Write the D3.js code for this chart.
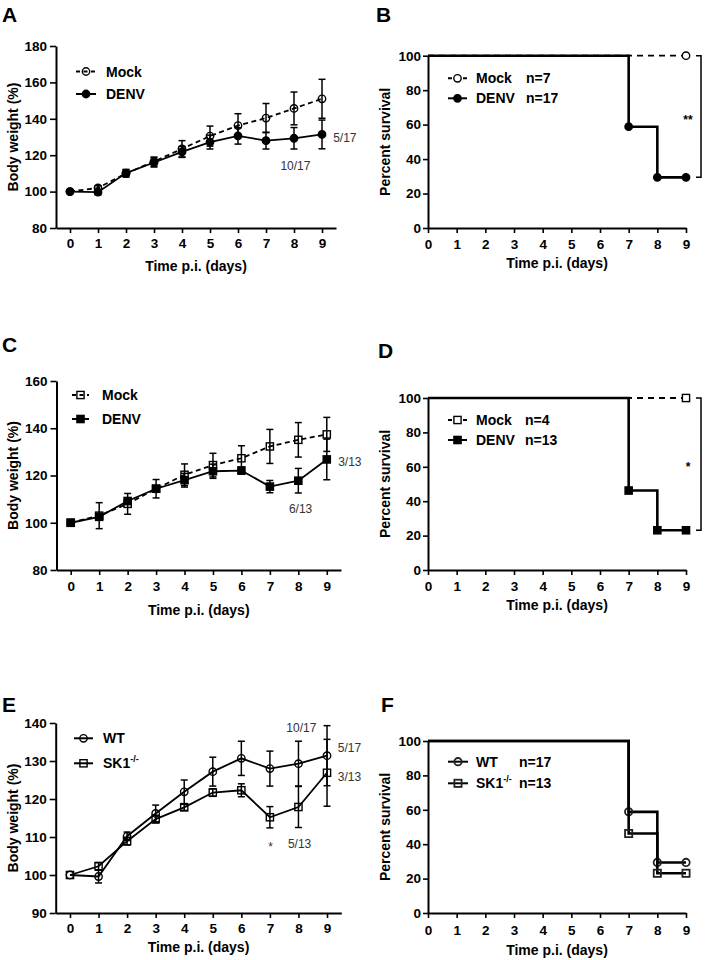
<!DOCTYPE html>
<html>
<head>
<meta charset="utf-8">
<script src="https://cdn.jsdelivr.net/npm/d3@7"></script>
<style>
  body { margin: 0; background: #fff; }
  svg { display: block; }
</style>
</head>
<body>
<div id="plotRegi"></div>
<script>
/* Data */
const days = [0, 1, 2, 3, 4, 5, 6, 7, 8, 9]

// A: body weight, Mock vs DENV
const mockA    = [100, 102.0, 110.0, 116.5, 123.5, 130.5, 136.3, 140.4, 145.7, 151.0]
const mockErrA = [0, 1.2, 2.0, 2.5, 4.5, 5.5, 6.5, 8.0, 9.0, 10.7]
const denvA    = [100, 99.7, 110.2, 116.0, 121.8, 127.2, 130.6, 128.0, 129.3, 131.4]
const denvErrA = [0, 1.5, 2.0, 2.5, 3.0, 3.8, 4.5, 4.6, 5.9, 7.9]

// C: body weight, Mock vs DENV (SK1-/-)
const mockC    = [100, 103.0, 108.0, 114.4, 120.3, 124.4, 127.3, 132.3, 135.1, 137.4]
const mockErrC = [0, 5.5, 4.4, 3.9, 4.6, 5.0, 5.3, 7.2, 7.3, 7.2]
const denvC    = [100, 102.5, 109.2, 114.4, 118.0, 121.8, 122.1, 115.3, 117.8, 126.8]
const denvErrC = [0, 1.2, 1.4, 1.0, 2.9, 3.0, 1.5, 2.6, 5.2, 8.6]

// E: body weight, WT vs SK1-/-
const wtE    = [100, 99.6, 110.2, 116.2, 121.9, 127.2, 130.7, 128.0, 129.3, 131.4]
const wtErrE = [0, 1.7, 1.1, 2.2, 3.1, 3.8, 4.5, 4.6, 5.9, 7.9]
const skE    = [100, 102.3, 108.9, 114.7, 117.8, 121.7, 122.3, 115.2, 117.9, 126.9]
const skErrE = [0, 1.0, 1.0, 1.0, 0.8, 1.0, 1.7, 2.8, 5.4, 8.8]

// B, D, F: survival
const survDays = [0, 7, 8, 9]
const mockB = [100, 100, 100, 100]
const denvB = [100, 58.8, 29.4, 29.4]
const mockD = [100, 100, 100, 100]
const denvD = [100, 46.2, 23.1, 23.1]
const wtF   = [100, 58.8, 29.4, 29.4]
const skF   = [100, 46.2, 23.1, 23.1]
const markDaysInfected = [7, 8, 9]
const markDaysMock = [9]

// Ticks and labels
const yTicksA = [80, 100, 120, 140, 160, 180]
const yTicksC = [80, 100, 120, 140, 160]
const yTicksE = [90, 100, 110, 120, 130, 140]
const survTicks = [0, 20, 40, 60, 80, 100]
const xTitle = "Time p.i. (days)"
const weightTitle = "Body weight (%)"
const survTitle = "Percent survival"

// Annotations (day / value in data units)
const annoA = [
    { text: "10/17", day: 8.05, value: 112.0, anchor: "middle" },
    { text: "5/17", day: 9.4, value: 127.5, anchor: "start" }
]
const annoC = [
    { text: "6/13", day: 8.08, value: 104.2, anchor: "middle" },
    { text: "3/13", day: 9.4, value: 124.1, anchor: "start" }
]
const annoE = [
    { text: "10/17", day: 8.1, value: 137.7, anchor: "middle" },
    { text: "5/17", day: 9.38, value: 132.4, anchor: "start" },
    { text: "3/13", day: 9.38, value: 124.7, anchor: "start" },
    { text: "*", day: 7.02, value: 106.4, anchor: "middle" },
    { text: "5/13", day: 7.63, value: 107.2, anchor: "start" }
]
const sigB = { text: "**", from: 100, to: 29.4 }
const sigD = { text: "*", from: 100, to: 23.1 }


/* Drawing */
const FONT = "'Liberation Sans', Arial, Helvetica, sans-serif"

var svg = d3
    .select("#plotRegi")
    .append("svg")
    .attr("width", 706)
    .attr("height", 960)
    .style("font-family", FONT)

// Style an axis group like the GraphPad look
function styleAxis(g) {
    g.attr("font-family", FONT).attr("font-size", 13.5)
    g.select(".domain").attr("stroke", "#000").attr("stroke-width", 2)
    g.selectAll(".tick line").attr("stroke", "#000").attr("stroke-width", 1.6)
    g.selectAll(".tick text").attr("fill", "#000").style("font-weight", "bold")
}

function addMarker(g, shape, cx, cy, fill, stroke, sw) {
    let m
    if (shape === "circle") {
        m = g.append("circle").attr("cx", cx).attr("cy", cy).attr("r", 3.7)
    } else {
        m = g.append("rect").attr("x", cx - 3.6).attr("y", cy - 3.6).attr("width", 7.2).attr("height", 7.2)
    }
    m.attr("fill", fill).attr("stroke", stroke).attr("stroke-width", sw)
}

function drawAxes(g, x, y, p, xTicks, yTicks) {
    const x0 = x.range()[0], y0 = y.range()[0]

    g.append("g")
        .attr("transform", "translate(0," + y0 + ")")
        .call(d3.axisBottom(x).tickValues(xTicks).tickSize(5).tickSizeOuter(0).tickPadding(p.xPad))
        .call(styleAxis)

    g.append("g")
        .attr("transform", "translate(" + x0 + ",0)")
        .call(d3.axisLeft(y).tickValues(yTicks).tickSize(p.yTick).tickSizeOuter(0).tickPadding(p.yPad))
        .call(styleAxis)

    // Axis titles
    g.append("text")
        .attr("x", (x.range()[0] + x.range()[1]) / 2)
        .attr("y", y0 + p.xTitleOff)
        .attr("text-anchor", "middle")
        .style("font-size", "14px")
        .style("font-weight", "bold")
        .text(xTitle)

    g.append("text")
        .attr("transform", "translate(" + p.yTitleX + "," + (y.range()[0] + y.range()[1]) / 2 + ") rotate(-90)")
        .attr("text-anchor", "middle")
        .style("font-size", "14px")
        .style("font-weight", "bold")
        .text(p.yTitle)

    // Panel letter
    g.append("text")
        .attr("x", p.letter[1])
        .attr("y", p.letter[2])
        .style("font-size", "21px")
        .style("font-weight", "bold")
        .text(p.letter[0])
}

function drawLegend(g, p) {
    const L = p.legend
    p.series.forEach((s, i) => {
        const cy = L.rows[i]
        g.append("line")
            .attr("x1", L.x1).attr("x2", L.x2)
            .attr("y1", cy).attr("y2", cy)
            .attr("stroke", "#000")
            .attr("stroke-width", 2)
            .attr("stroke-dasharray", s.dashed ? "4,3.5" : null)
        addMarker(g, s.shape, (L.x1 + L.x2) / 2, cy, s.fill, s.stroke || "#000", s.sw || 1.4)

        const t = g.append("text")
            .attr("x", L.tx)
            .attr("y", cy + 5)
            .style("font-size", "14px")
            .style("font-weight", "bold")
            .text(s.label)
        if (s.sup) {
            t.append("tspan").attr("dy", -6).style("font-size", "9px").text(s.sup)
        }
        if (s.n) {
            g.append("text")
                .attr("x", L.nx)
                .attr("y", cy + 5)
                .style("font-size", "14px")
                .style("font-weight", "bold")
                .text(s.n)
        }
    })
}

// Body weight panels
function weightPanel(p) {
    const x = d3.scaleLinear().domain([-0.5, 9.5]).range(p.xRange)
    const y = d3.scaleLinear().domain(p.yDomain).range(p.yRange)
    const g = svg.append("g")

    drawAxes(g, x, y, p, days, p.yTicks)

    p.series.forEach(s => {
        const pts = days.map((d, i) => ({ day: d, v: s.values[i], e: s.err[i] }))

        // Error bars with caps
        const eb = g.append("g")
            .selectAll("g")
            .data(pts.filter(d => d.e > 0))
            .enter()
            .append("g")
            .attr("stroke", "#000")
            .attr("stroke-width", 1.5)

        eb.append("line")
            .attr("x1", d => x(d.day)).attr("x2", d => x(d.day))
            .attr("y1", d => y(d.v - d.e)).attr("y2", d => y(d.v + d.e))
        eb.append("line")
            .attr("x1", d => x(d.day) - 3.5).attr("x2", d => x(d.day) + 3.5)
            .attr("y1", d => y(d.v + d.e)).attr("y2", d => y(d.v + d.e))
        eb.append("line")
            .attr("x1", d => x(d.day) - 3.5).attr("x2", d => x(d.day) + 3.5)
            .attr("y1", d => y(d.v - d.e)).attr("y2", d => y(d.v - d.e))

        // Line
        g.append("path")
            .datum(pts)
            .attr("d", d3.line().x(d => x(d.day)).y(d => y(d.v)))
            .attr("fill", "none")
            .attr("stroke", "#000")
            .attr("stroke-width", 1.8)
            .attr("stroke-dasharray", s.dashed ? "5,3.5" : null)

        // Markers
        pts.forEach(d => addMarker(g, s.shape, x(d.day), y(d.v), s.fill, "#000", 1.4))
    })

    drawLegend(g, p)

    // Group size annotations
    g.selectAll(".anno")
        .data(p.anno)
        .enter()
        .append("text")
        .attr("x", d => x(d.day))
        .attr("y", d => y(d.value))
        .attr("text-anchor", d => d.anchor)
        .attr("fill", "#333")
        .style("font-size", "12px")
        .text(d => d.text)
}

// Survival panels
function survivalPanel(p) {
    const x = d3.scaleLinear().domain([0, 9]).range([428, 686])
    const y = d3.scaleLinear().domain([0, 100]).range(p.yRange)
    const g = svg.append("g")

    drawAxes(g, x, y, p, days, survTicks)

    p.series.forEach(s => {
        const pts = survDays.map((d, i) => ({ day: d, v: s.values[i] }))

        g.append("path")
            .datum(pts)
            .attr("d", d3.line().curve(d3.curveStepAfter).x(d => x(d.day)).y(d => y(d.v)))
            .attr("fill", "none")
            .attr("stroke", "#000")
            .attr("stroke-width", s.dashed ? 1.8 : 2.6)
            .attr("stroke-dasharray", s.dashed ? "6,5" : null)

        pts.filter(d => s.marks.includes(d.day))
            .forEach(d => addMarker(g, s.shape, x(d.day), y(d.v), s.fill, s.stroke || "#000", s.sw || 1.4))
    })

    drawLegend(g, p)

    // Significance bracket
    if (p.sig) {
        const bx = x(9) + 15
        g.append("path")
            .attr("d", "M" + (bx - 5) + "," + y(p.sig.from) + "H" + bx + "V" + y(p.sig.to) + "H" + (bx - 5))
            .attr("fill", "none")
            .attr("stroke", "#000")
            .attr("stroke-width", 1.5)
        g.append("text")
            .attr("x", x(9) + 2)
            .attr("y", y((p.sig.from + p.sig.to) / 2) + 7)
            .attr("text-anchor", "middle")
            .style("font-size", "12px")
            .style("font-weight", "bold")
            .text(p.sig.text)
    }
}


/* Running */
weightPanel({
    letter: ["A", 2, 22],
    xRange: [56, 336], yDomain: [80, 180], yRange: [228, 46], yTicks: yTicksA,
    xPad: 5, yTick: 6, yPad: 3, xTitleOff: 43, yTitleX: 18, yTitle: weightTitle,
    series: [
        { label: "Mock", values: mockA, err: mockErrA, shape: "circle", fill: "none", dashed: true },
        { label: "DENV", values: denvA, err: denvErrA, shape: "circle", fill: "#000", dashed: false }
    ],
    legend: { rows: [71.5, 94], x1: 76, x2: 96, tx: 106 },
    anno: annoA
})

survivalPanel({
    letter: ["B", 376, 22],
    yRange: [228, 55.7],
    xPad: 6, yTick: 5, yPad: 2, xTitleOff: 40, yTitleX: 390, yTitle: survTitle,
    series: [
        { label: "Mock", n: "n=7", values: mockB, marks: markDaysMock, shape: "circle", fill: "#fff", dashed: true },
        { label: "DENV", n: "n=17", values: denvB, marks: markDaysInfected, shape: "circle", fill: "#000", dashed: false }
    ],
    legend: { rows: [78.3, 98.3], x1: 448, x2: 467, tx: 476, nx: 526 },
    sig: sigB
})

weightPanel({
    letter: ["C", 2, 352],
    xRange: [56.5, 341], yDomain: [80, 160], yRange: [570, 381], yTicks: yTicksC,
    xPad: 6.5, yTick: 6, yPad: 3, xTitleOff: 45, yTitleX: 18, yTitle: weightTitle,
    series: [
        { label: "Mock", values: mockC, err: mockErrC, shape: "square", fill: "none", dashed: true },
        { label: "DENV", values: denvC, err: denvErrC, shape: "square", fill: "#000", dashed: false }
    ],
    legend: { rows: [395, 419], x1: 72, x2: 89, tx: 102 },
    anno: annoC
})

survivalPanel({
    letter: ["D", 378, 358],
    yRange: [570, 398],
    xPad: 6.5, yTick: 5, yPad: 2, xTitleOff: 40, yTitleX: 390, yTitle: survTitle,
    series: [
        { label: "Mock", n: "n=4", values: mockD, marks: markDaysMock, shape: "square", fill: "#fff", dashed: true },
        { label: "DENV", n: "n=13", values: denvD, marks: markDaysInfected, shape: "square", fill: "#000", dashed: false }
    ],
    legend: { rows: [420, 440], x1: 448, x2: 467, tx: 476, nx: 525 },
    sig: sigD
})

weightPanel({
    letter: ["E", 2, 712],
    xRange: [55.7, 341.3], yDomain: [90, 140], yRange: [913, 723], yTicks: yTicksE,
    xPad: 5, yTick: 6, yPad: 3, xTitleOff: 39, yTitleX: 18, yTitle: weightTitle,
    series: [
        { label: "WT", values: wtE, err: wtErrE, shape: "circle", fill: "none", dashed: false },
        { label: "SK1", sup: "-/-", values: skE, err: skErrE, shape: "square", fill: "none", dashed: false }
    ],
    legend: { rows: [738.3, 763.3], x1: 74, x2: 93, tx: 103 },
    anno: annoE
})

survivalPanel({
    letter: ["F", 381, 712],
    yRange: [913, 741],
    xPad: 7, yTick: 5, yPad: 2, xTitleOff: 42, yTitleX: 390, yTitle: survTitle,
    series: [
        { label: "WT", n: "n=17", values: wtF, marks: markDaysInfected, shape: "circle", fill: "none", stroke: "#222", sw: 1.8, dashed: false },
        { label: "SK1", sup: "-/-", n: "n=13", values: skF, marks: markDaysInfected, shape: "square", fill: "none", stroke: "#222", sw: 1.8, dashed: false }
    ],
    legend: { rows: [761.7, 783.3], x1: 448, x2: 468, tx: 476, nx: 519 }
})
</script>
</body>
</html>
